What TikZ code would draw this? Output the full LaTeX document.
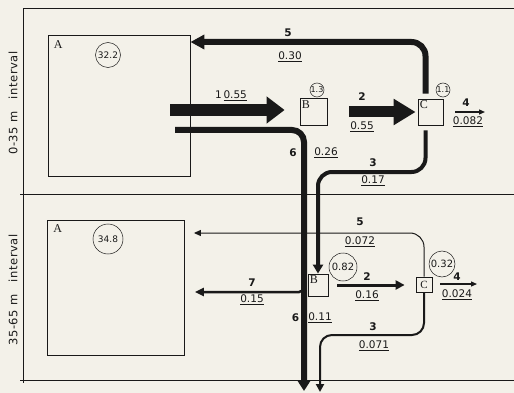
\documentclass[tikz,border=0pt]{standalone}
\usepackage{fontspec}
\setmainfont{Liberation Serif}
\setsansfont{DejaVu Sans}
\usetikzlibrary{arrows.meta}
\definecolor{paper}{RGB}{243,241,233}
\definecolor{ink}{RGB}{25,25,25}
\begin{document}
\begin{tikzpicture}[x=1pt, y=-1pt,
    box/.style={draw=ink, line width=0.8pt, inner sep=0pt},
    pool/.style={draw=ink, line width=0.5pt, circle, inner sep=0pt, text=ink, font=\sffamily\fontsize{9}{10}\selectfont},
    tag/.style={anchor=north west, inner sep=0pt, text=ink, font=\fontsize{12}{13}\selectfont},
    fid/.style={inner sep=1pt, text=ink, font=\sffamily\bfseries\fontsize{10.5}{12}\selectfont},
    fval/.style={inner sep=1pt, text=ink, font=\sffamily\fontsize{10.5}{12}\selectfont},
    zone/.style={rotate=90, text=ink, font=\sffamily\fontsize{11.5}{13}\selectfont\addfontfeature{LetterSpace=6}},
    flow/.style={draw=ink, line width=#1},
    ]
    \fill[paper] (0,0) rectangle (514,393);
    \useasboundingbox (0,0) rectangle (514,393);
    \draw[ink, line width=0.8pt] (514,8) -- (23,8) -- (23,383);
    \draw[ink, line width=0.8pt] (20,194) -- (514,194);
    \draw[ink, line width=0.8pt] (20,380) -- (514,380);
    \node[zone] (zone1) at (13,103) {0-35 m\quad interval};
    \node[zone] (zone2) at (13,290) {35-65 m\quad interval};

    \node[box, minimum width=142pt, minimum height=141pt] (A1) at (119,106) {};
    \node[box, minimum width=137pt, minimum height=135pt] (A2) at (116,287.5) {};
    \node[box, minimum width=27pt, minimum height=27pt] (B1) at (313.5,112) {};
    \node[box, minimum width=25pt, minimum height=26pt] (C1) at (430.5,112) {};
    \node[box, minimum width=20pt, minimum height=22pt] (B2) at (318,285) {};
    \node[box, minimum width=16pt, minimum height=15pt] (C2) at (424,284.5) {};
    \node[tag] (tA1) at ([shift={(6pt,-5pt)}]A1.north west) {A};
    \node[tag] (tA2) at ([shift={(6pt,-5pt)}]A2.north west) {A};
    \node[tag] (tB1) at ([shift={(2pt,-2pt)}]B1.north west) {B};
    \node[tag] (tC1) at ([shift={(2pt,-2pt)}]C1.north west) {C};
    \node[tag] (tB2) at ([shift={(2pt,-2pt)}]B2.north west) {B};
    \node[tag, anchor=center, font=\fontsize{11}{12}\selectfont] (tC2) at (C2.center) {C};

    \node[pool, minimum size=25pt] (pA1) at (108,55) {32.2};
    \node[pool, minimum size=30pt] (pA2) at (108,239) {34.8};
    \node[pool, minimum size=14pt, font=\sffamily\fontsize{8}{9}\selectfont] (pB1) at (317,90) {1.3};
    \node[pool, minimum size=14pt, font=\sffamily\fontsize{8}{9}\selectfont] (pC1) at (443,90) {1.1};
    \node[pool, minimum size=28pt, font=\sffamily\fontsize{10}{11}\selectfont] (pB2) at (343,267) {0.82};
    \node[pool, minimum size=26pt, font=\sffamily\fontsize{10}{11}\selectfont] (pC2) at (442,264) {0.32};

    \coordinate (s1) at (170,110);
    \coordinate (s6) at (175,130);
    \coordinate (k6) at (304,130);
    \coordinate (e6) at (304,391);
    \coordinate (k5) at (425,42);
    \coordinate (k3) at (318,172);
    \coordinate (o4) at (485,112);
    \coordinate (k5b) at (423,233);
    \coordinate (o4b) at (477,284);
    \coordinate (k3b) at (320,335);
    \coordinate (e3) at (320,392);
    \coordinate (k7) at (304,292);

    \draw[flow=12pt, -{Triangle[length=18pt,width=26pt]}, shorten >=15pt] (s1) -- (B1.west |- s1);
    \draw[flow=11pt, -{Triangle[length=22pt,width=25pt]}, shorten <=22pt, shorten >=2pt] (B1.east) -- (C1.west);
    \draw[flow=6pt, rounded corners=14pt, -{Triangle[length=14pt,width=14pt]}, shorten <=5pt] ([xshift=-5pt]C1.north) |- (A1.east |- k5);
    \draw[flow=4pt, rounded corners=14pt, -{Triangle[length=9pt,width=10pt]}, shorten <=5pt] ([xshift=-5pt]C1.south) |- (k3) -- (k3 |- B2.north);
    \draw[flow=1.2pt, -{Triangle[length=6pt,width=5pt]}, shorten <=12pt] (C1.east |- o4) -- (o4);
    \draw[flow=6pt, rounded corners=12pt, -{Triangle[length=10pt,width=12pt]}] (s6) -- (k6) -- (e6);

    \draw[flow=1pt, rounded corners=14pt, -{Triangle[length=7pt,width=6pt]}, shorten >=9pt] (C2.north) |- (A2.east |- k5b);
    \draw[flow=3pt, -{Triangle[length=9pt,width=9pt]}, shorten <=9pt, shorten >=11pt] (B2.east) -- (C2.west |- B2.east);
    \draw[flow=1.2pt, -{Triangle[length=6pt,width=5pt]}, shorten <=8pt] (C2.east |- o4b) -- (o4b);
    \draw[flow=2pt, rounded corners=12pt, -{Triangle[length=8pt,width=8pt]}] (C2.south) |- (k3b) -- (e3);
    \draw[flow=2.5pt, rounded corners=5pt, -{Triangle[length=9pt,width=8pt]}, shorten >=10pt] ([yshift=8pt]k7) -- (k7) -- (A2.east |- k7);

    \node[fval] (v1) at (231,96) {1\,\underline{0.55}};
    \node[fid] (n5) at (288,33) {5};
    \node[fval] (v5) at (290,57) {\underline{0.30}};
    \node[fid] (n6) at (293,153) {6};
    \node[fval] (v6) at (326,153) {\underline{0.26}};
    \node[fid] (n2) at (362,97) {2};
    \node[fval] (v2) at (362,127) {\underline{0.55}};
    \node[fid] (n4) at (466,103) {4};
    \node[fval] (v4) at (468,122) {\underline{0.082}};
    \node[fid] (n3) at (373,163) {3};
    \node[fval] (v3) at (373,181) {\underline{0.17}};

    \node[fid] (n5b) at (360,222) {5};
    \node[fval] (v5b) at (360,242) {\underline{0.072}};
    \node[fid] (n2b) at (367,277) {2};
    \node[fval] (v2b) at (367,296) {\underline{0.16}};
    \node[fid] (n4b) at (457,277) {4};
    \node[fval] (v4b) at (457,295) {\underline{0.024}};
    \node[fid] (n3b) at (373,327) {3};
    \node[fval] (v3b) at (374,346) {\underline{0.071}};
    \node[fid] (n7) at (252,283) {7};
    \node[fval] (v7) at (252,300) {\underline{0.15}};
    \node[fid] (n6b) at (295.5,318) {6};
    \node[fval] (v6b) at (320,318) {\underline{0.11}};
\end{tikzpicture}
\end{document}
